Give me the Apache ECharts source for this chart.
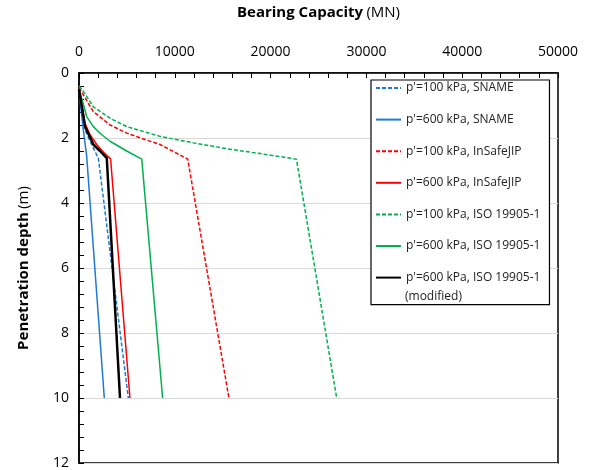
<!DOCTYPE html>
<html>
<head>
<meta charset="utf-8">
<script src="https://cdn.jsdelivr.net/npm/echarts@6/dist/echarts.min.js"></script>
<style>
  html, body { margin: 0; padding: 0; background: #fff; }
  #chart { width: 590px; height: 470px; }
</style>
</head>
<body>
<div id="chart"></div>
<script>
// [capacity (MN), depth (m)]
const sname100 = [[0, 0.5], [250, 1.0], [630, 1.75], [1320, 2.2], [2020, 2.62], [5150, 10]]
const sname600 = [[0, 0.5], [200, 1.1], [450, 1.75], [650, 2.2], [800, 2.55], [2640, 10]]
const insafe100 = [[0, 0.45], [300, 0.6], [1500, 1.19], [3240, 1.6], [4980, 1.85], [6710, 2.03], [8460, 2.2], [11350, 2.65], [15650, 10]]
const insafe600 = [[0, 0.5], [250, 0.9], [630, 1.55], [1150, 1.9], [1850, 2.2], [2540, 2.43], [3300, 2.65], [5320, 10]]
const iso100 = [[0, 0.4], [300, 0.5], [1500, 1.04], [3240, 1.39], [4980, 1.65], [8460, 1.95], [11940, 2.15], [15420, 2.33], [18900, 2.48], [22700, 2.65], [26900, 10]]
const iso600 = [[0, 0.5], [300, 0.8], [800, 1.34], [1500, 1.65], [2370, 1.9], [3240, 2.1], [4980, 2.4], [6550, 2.65], [8730, 10]]
const isoMod600 = [[0, 0.5], [250, 0.95], [630, 1.65], [1500, 2.2], [2190, 2.4], [2900, 2.62], [4280, 10]]

const names = [
  "p'=100 kPa, SNAME",
  "p'=600 kPa, SNAME",
  "p'=100 kPa, InSafeJIP",
  "p'=600 kPa, InSafeJIP",
  "p'=100 kPa, ISO 19905-1",
  "p'=600 kPa, ISO 19905-1",
  "p'=600 kPa, ISO 19905-1 "
]

const FONT = 'Open Sans'

function line (name, data, color, dashed, width) {
  return {
    name: name,
    type: 'line',
    data: data,
    symbol: 'none',
    lineStyle: { color: color, width: width || 1.5, type: dashed ? [4, 2] : 'solid' },
    itemStyle: { color: color },
    emphasis: { disabled: true }
  }
}

const chart = echarts.init(document.getElementById('chart'))
chart.setOption({
  animation: false,
  grid: {
    left: 79, right: 32, top: 69, bottom: 6,
    show: true, borderColor: '#000', borderWidth: 1.5
  },
  legend: {
    orient: 'vertical',
    left: 371, top: 80,
    padding: [2, 6, 21, 4],
    itemWidth: 25, itemHeight: 14, itemGap: 19.6,
    borderColor: '#000', borderWidth: 1.2,
    backgroundColor: '#fff',
    data: names,
    itemStyle: { color: 'transparent', borderWidth: 0 },
    textStyle: { fontFamily: FONT, fontSize: 12, color: '#222' }
  },
  graphic: [{
    type: 'text', left: 405, top: 291, z: 100,
    style: { text: '(modified)', font: '12px "Open Sans"', fill: '#222' }
  }],
  xAxis: {
    type: 'value', position: 'top',
    min: 0, max: 50000, interval: 10000,
    name: '{b|Bearing Capacity} {n|(MN)}',
    nameLocation: 'middle', nameGap: 53,
    nameTextStyle: {
      rich: {
        b: { fontFamily: FONT, fontSize: 15, fontWeight: 'bold', color: '#000' },
        n: { fontFamily: FONT, fontSize: 15, color: '#000' }
      }
    },
    axisLine: { lineStyle: { color: '#000', width: 1.5 } },
    axisTick: { inside: true, length: 5, lineStyle: { color: '#000' } },
    minorTick: { show: true, splitNumber: 5, length: 5, lineStyle: { color: '#000' } },
    axisLabel: { fontFamily: FONT, fontSize: 14, color: '#000', margin: 14, formatter: v => String(v) },
    splitLine: { show: false }
  },
  yAxis: {
    type: 'value', inverse: true,
    min: 0, max: 12, interval: 2,
    name: '{b|Penetration depth} {n|(m)}',
    nameLocation: 'middle', nameGap: 48, nameRotate: 90,
    nameTextStyle: {
      rich: {
        b: { fontFamily: FONT, fontSize: 15, fontWeight: 'bold', color: '#000' },
        n: { fontFamily: FONT, fontSize: 15, color: '#000' }
      }
    },
    axisLine: { lineStyle: { color: '#000', width: 1.5 } },
    axisTick: { inside: true, length: 5, lineStyle: { color: '#000' } },
    minorTick: { show: true, splitNumber: 5, length: 5, lineStyle: { color: '#000' } },
    axisLabel: { fontFamily: FONT, fontSize: 14, color: '#000', margin: 10 },
    splitLine: { show: true, lineStyle: { color: '#d9d9d9', width: 1 } }
  },
  series: [
    line(names[0], sname100, '#1f78d1', true),
    line(names[1], sname600, '#1f78d1', false),
    line(names[2], insafe100, '#ff0000', true),
    line(names[3], insafe600, '#ff0000', false),
    line(names[4], iso100, '#00b050', true),
    line(names[5], iso600, '#00b050', false),
    line(names[6], isoMod600, '#000000', false, 2.5)
  ]
})
</script>
</body>
</html>
